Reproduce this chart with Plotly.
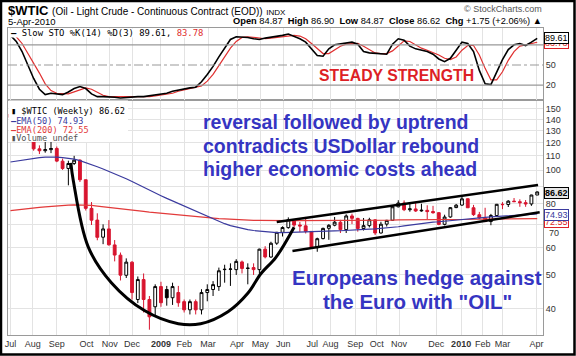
import math
import pandas as pd
import plotly.graph_objects as go

# ---------------- data ----------------
week_dates = list(pd.date_range("2008-07-07", periods=92, freq="7D").strftime("%Y-%m-%d"))

opens = [141.7, 145.1, 129.0, 123.3, 125.1, 115.2, 113.8, 114.6, 115.5, 106.2,
         101.2, 104.6, 106.9, 93.9, 77.7, 71.9, 64.2, 67.8, 61.0, 57.0,
         49.9, 54.4, 42.5, 48.5, 42.5, 40.5, 46.3, 45.4, 43.0, 44.5,
         41.9, 39.7, 41.9, 39.7, 44.5, 45.4, 46.3, 51.8, 51.9, 51.8,
         54.5, 52.2, 52.5, 51.8, 59.3, 56.3, 61.7, 66.3, 68.4, 72.0,
         69.6, 69.2, 66.7, 59.9, 63.6, 68.1, 69.5, 70.9, 67.5, 73.9,
         72.7, 68.0, 69.3, 72.0, 66.0, 70.0, 71.8, 78.5, 80.5, 77.0,
         77.4, 76.4, 76.7, 76.1, 75.5, 69.9, 73.4, 78.1, 79.4, 82.8,
         78.0, 74.5, 72.9, 71.2, 74.1, 79.8, 79.7, 81.5, 81.2, 80.7,
         80.0, 84.87]
highs = [147.3, 145.9, 132.0, 127.8, 126.0, 117.9, 122.2, 121.0, 117.0, 108.0,
         106.5, 110.0, 107.5, 94.0, 81.0, 75.2, 69.9, 71.9, 63.0, 58.0,
         55.8, 54.8, 49.5, 50.5, 43.5, 47.0, 47.8, 46.5, 47.5, 46.5,
         42.5, 42.5, 42.5, 45.5, 47.0, 48.0, 52.5, 53.5, 54.0, 55.5,
         55.0, 54.0, 54.0, 59.5, 60.5, 62.3, 66.5, 69.0, 73.2, 72.4,
         71.0, 73.4, 66.8, 64.0, 68.4, 70.0, 73.4, 72.0, 74.7, 75.0,
         73.0, 72.9, 73.0, 72.4, 71.1, 72.0, 78.9, 82.0, 81.9, 81.0,
         80.5, 80.1, 79.3, 79.0, 75.8, 74.5, 78.4, 80.0, 83.95, 83.0,
         79.5, 75.9, 78.0, 74.9, 80.0, 81.0, 82.0, 83.2, 82.5, 82.1,
         85.0, 86.90]
lows = [135.6, 128.2, 122.0, 120.4, 113.8, 111.3, 112.3, 112.0, 105.5, 100.2,
        90.5, 103.5, 92.5, 76.6, 69.6, 62.9, 61.3, 60.7, 54.7, 48.2,
        49.0, 42.5, 41.5, 39.0, 34.8, 38.0, 40.5, 40.8, 41.0, 40.5,
        39.0, 38.5, 38.5, 38.5, 42.0, 43.5, 45.0, 47.5, 46.5, 50.0,
        50.5, 47.0, 50.0, 50.5, 55.8, 56.0, 61.0, 64.5, 67.9, 68.6,
        66.5, 65.8, 59.5, 58.3, 63.3, 63.1, 69.0, 66.0, 66.0, 70.0,
        66.6, 67.1, 68.5, 65.1, 65.8, 68.9, 71.5, 78.2, 76.3, 76.0,
        75.9, 76.0, 72.4, 75.0, 69.5, 69.4, 73.0, 77.8, 79.0, 77.9,
        73.9, 72.4, 71.1, 69.5, 73.6, 77.3, 78.4, 81.0, 78.5, 78.5,
        79.0, 84.87]
closes = [145.08, 128.88, 123.26, 125.10, 115.20, 113.77, 114.59, 115.46, 106.23, 101.18,
          104.55, 106.89, 93.88, 77.70, 71.85, 64.15, 67.81, 61.04, 57.04, 49.93,
          54.43, 44.5, 48.5, 42.5, 37.9, 46.3, 41.6, 43.0, 46.3, 41.6,
          39.7, 41.9, 39.7, 44.5, 45.4, 46.9, 51.4, 51.9, 52.0, 54.7,
          52.2, 52.3, 51.8, 59.3, 56.34, 61.67, 66.31, 68.44, 72.04, 69.55,
          69.16, 66.73, 59.89, 63.56, 68.05, 69.45, 70.93, 67.51, 73.89, 72.74,
          68.02, 69.29, 72.04, 66.02, 69.95, 71.77, 78.53, 80.50, 77.00, 77.43,
          76.35, 76.72, 76.05, 75.47, 69.87, 73.36, 78.05, 79.36, 82.75, 78.00,
          74.54, 72.89, 71.19, 74.13, 79.81, 79.66, 81.50, 81.24, 80.68, 80.00,
          84.87, 86.62]

ema50 = [105.6, 106.3, 107.0, 107.7, 108.3, 108.7, 109.0, 109.1, 109.0, 108.7,
         108.3, 107.6, 106.6, 105.3, 103.8, 102.3, 100.8, 99.3, 97.7, 96.1,
         94.5, 92.8, 91.0, 89.3, 87.6, 86.0, 84.5, 83.0, 81.6, 80.2,
         78.8, 77.4, 76.1, 74.8, 73.5, 72.3, 71.2, 70.2, 69.3, 68.6,
         68.0, 67.5, 67.1, 66.8, 66.5, 66.3, 66.2, 66.2, 66.2, 66.3,
         66.4, 66.5, 66.6, 66.6, 66.7, 66.8, 66.9, 67.0, 67.2, 67.4,
         67.5, 67.6, 67.7, 67.8, 68.0, 68.2, 68.5, 68.8, 69.2, 69.6,
         70.0, 70.3, 70.6, 70.9, 71.1, 71.4, 71.7, 72.0, 72.3, 72.6,
         72.8, 73.0, 73.2, 73.4, 73.6, 73.8, 74.0, 74.2, 74.4, 74.6,
         74.8, 74.93]
ema200 = [76.5, 76.9, 77.2, 77.6, 77.9, 78.2, 78.5, 78.8, 79.0, 79.2,
          79.4, 79.5, 79.5, 79.4, 79.2, 78.9, 78.6, 78.3, 77.9, 77.6,
          77.2, 76.9, 76.5, 76.2, 75.8, 75.5, 75.2, 74.9, 74.6, 74.3,
          74.0, 73.8, 73.5, 73.3, 73.0, 72.8, 72.6, 72.5, 72.3, 72.2,
          72.0, 71.9, 71.8, 71.8, 71.7, 71.7, 71.6, 71.6, 71.6, 71.6,
          71.6, 71.6, 71.6, 71.6, 71.6, 71.6, 71.6, 71.7, 71.7, 71.7,
          71.7, 71.8, 71.8, 71.8, 71.9, 71.9, 71.9, 72.0, 72.0, 72.0,
          72.1, 72.1, 72.1, 72.2, 72.2, 72.2, 72.2, 72.3, 72.3, 72.3,
          72.3, 72.3, 72.4, 72.4, 72.4, 72.4, 72.5, 72.5, 72.5, 72.5,
          72.55, 72.55]

sto_k = [94, 85, 70, 50, 30, 14, 6, 8, 7, 6,
         10, 15, 18, 15, 7, 3, 3, 3, 2, 1,
         2, 3, 3, 3, 4, 5, 6, 8, 11, 13,
         15, 16, 17, 25, 36, 48, 62, 75, 88, 92,
         92, 91, 89, 88, 90, 91, 92, 94, 96, 93,
         89, 84, 74, 64, 63, 74, 80, 81, 82, 84,
         81, 70, 68, 67, 67, 66, 81, 89, 87, 78,
         74, 72, 70, 66, 59, 55, 60, 72, 84, 82,
         70, 42, 22, 21, 40, 58, 73, 80, 82, 79,
         84, 89.61]
sto_d = [96, 92, 82, 68, 52, 38, 22, 12, 8, 7,
         7, 10, 13, 16, 14, 9, 5, 3, 3, 2,
         2, 2, 3, 3, 3, 4, 5, 6, 8, 11,
         13, 15, 16, 19, 26, 36, 49, 62, 75, 85,
         91, 92, 91, 89, 89, 90, 91, 92, 94, 94,
         93, 89, 82, 74, 67, 67, 72, 78, 81, 82,
         82, 78, 73, 68, 67, 67, 71, 79, 86, 85,
         80, 75, 72, 69, 65, 60, 58, 62, 72, 79,
         79, 65, 45, 28, 28, 40, 57, 70, 78, 80,
         82, 83.78]

x_tick_dates = ["2008-07-07", "2008-08-03", "2008-09-01", "2008-10-07", "2008-11-04", "2008-12-01",
                "2009-01-05", "2009-02-02", "2009-03-03", "2009-04-07", "2009-05-05", "2009-06-02",
                "2009-07-07", "2009-07-29", "2009-08-28", "2009-09-23", "2009-10-20", "2009-12-04",
                "2010-01-03", "2010-01-29", "2010-02-22", "2010-04-04"]
x_tick_text = ["Jul", "Aug", "Sep", "Oct", "Nov", "Dec", "<b>2009</b>", "Feb", "Mar", "Apr", "May", "Jun",
               "Jul", "Aug", "Sep", "Oct", "Nov", "Dec", "<b>2010</b>", "Feb", "Mar", "Apr"]
price_ticks = [40, 50, 60, 70, 80, 90, 100, 110, 120, 130, 140, 150]
price_tick_text = ["40", "50", "60", "", "80", "", "100", "110", "120", "130", "140", "150"]
sto_ticks = [20, 50, 80]
sto_tick_text = ["20", "50", ""]

# drawn annotation lines (date, price)
arc_dates = ["2008-09-18", "2008-09-21", "2008-10-09", "2008-11-06", "2008-12-16", "2009-01-26",
             "2009-02-22", "2009-03-27", "2009-04-20", "2009-05-06", "2009-05-24", "2009-06-15"]
arc_prices = [105, 93.3, 60.2, 47.5, 39.5, 36.2, 36.2, 39.2, 44.3, 50.5, 56.2, 68.6]
upper_dates = ["2009-05-25", "2010-04-06"]
upper_prices = [71.0, 90.7]
lower_dates = ["2009-06-13", "2010-04-08"]
lower_prices = [58.6, 75.7]

# ---------------- geometry helpers ----------------
W, H = 576, 356
PL, PR, PT, PB = 8, 543, 28, 335
SPLIT = 100


def fx(x):
    return (x - PL) / (PR - PL)


def fy(y):
    return (PB - y) / (PB - PT)


BLUE_TXT = "#3535c2"
RED_TXT = "#dd1f26"
EMA50_C = "#3a3a9e"
EMA200_C = "#e23a3a"

fig = go.Figure()

n = len(closes)
black_idx = [i for i in range(n) if i > 0 and closes[i] >= closes[i - 1]]
red_idx = [i for i in range(n) if not (i > 0 and closes[i] >= closes[i - 1])]


def pick(lst, idx):
    return [lst[i] for i in idx]


for idx, col in ((black_idx, "black"), (red_idx, "#d8152f")):
    fig.add_trace(go.Candlestick(
        x=pick(week_dates, idx), open=pick(opens, idx), high=pick(highs, idx),
        low=pick(lows, idx), close=pick(closes, idx),
        increasing=dict(line=dict(color=col, width=1), fillcolor="white"),
        decreasing=dict(line=dict(color=col, width=1), fillcolor=col),
        whiskerwidth=0, showlegend=False, xaxis="x", yaxis="y"))

fig.add_trace(go.Scatter(x=week_dates, y=ema200, mode="lines", line=dict(color=EMA200_C, width=1.2),
                         showlegend=False, xaxis="x", yaxis="y"))
fig.add_trace(go.Scatter(x=week_dates, y=ema50, mode="lines", line=dict(color=EMA50_C, width=1.2),
                         showlegend=False, xaxis="x", yaxis="y"))

fig.add_trace(go.Scatter(x=arc_dates, y=arc_prices, mode="lines", line=dict(color="black", width=3, shape="spline"),
                         showlegend=False, xaxis="x", yaxis="y"))
fig.add_trace(go.Scatter(x=upper_dates, y=upper_prices, mode="lines", line=dict(color="black", width=2.6),
                         showlegend=False, xaxis="x", yaxis="y"))
fig.add_trace(go.Scatter(x=lower_dates, y=lower_prices, mode="lines", line=dict(color="black", width=2.6),
                         showlegend=False, xaxis="x", yaxis="y"))

fig.add_trace(go.Scatter(x=week_dates, y=sto_d, mode="lines", line=dict(color="#e03030", width=1.2),
                         showlegend=False, xaxis="x2", yaxis="y2"))
fig.add_trace(go.Scatter(x=week_dates, y=sto_k, mode="lines", line=dict(color="black", width=1.6),
                         showlegend=False, xaxis="x2", yaxis="y2"))

split_dom = (PB - SPLIT) / (PB - PT)
grid_c = "#e3e3e3"
axis_font = dict(family="Liberation Sans, Arial", size=9, color="#333")

shapes = [
    dict(type="line", xref="x2 domain", yref="y2", x0=0, x1=1, y0=80, y1=80, line=dict(color="#999", width=1.3)),
    dict(type="line", xref="x2 domain", yref="y2", x0=0, x1=1, y0=20, y1=20, line=dict(color="#999", width=1.3)),
    dict(type="line", xref="x2 domain", yref="y2", x0=0, x1=1, y0=50, y1=50,
         line=dict(color="#999", width=1, dash="dashdot")),
    dict(type="rect", xref="paper", yref="paper", x0=fx(8.6), x1=fx(198), y0=fy(37.5), y1=fy(28.6),
         fillcolor="white", line=dict(width=0), layer="above"),
    dict(type="rect", xref="paper", yref="paper", x0=fx(8.6), x1=fx(128), y0=fy(142), y1=fy(100.6),
         fillcolor="white", line=dict(width=0), layer="above"),
    dict(type="rect", xref="paper", yref="paper", x0=fx(1), x1=fx(574.5), y0=fy(354.5), y1=fy(1),
         line=dict(color="black", width=2.5), layer="above"),
]

ann = []


def text(x, y, s, size=10, color="black", xanchor="left", yanchor="middle", family="Liberation Sans, Arial", **kw):
    d = dict(xref="paper", yref="paper", x=fx(x), y=fy(y), text=s, showarrow=False,
             xanchor=xanchor, yanchor=yanchor, font=dict(family=family, size=size, color=color))
    d.update(kw)
    ann.append(d)


text(6, 11, "<b>$WTIC</b> <span style='font-size:10px'>(Oil - Light Crude - Continuous Contract (EOD))</span>"
            " <span style='font-size:8px'>INDX</span>", size=13)
text(6, 21.5, "5-Apr-2010", size=9.5)
text(544, 9, "© StockCharts.com", size=9, color="#555", xanchor="right")
text(544, 21.5, "<b>Open</b> 84.87  <b>High</b> 86.90  <b>Low</b> 84.87  <b>Close</b> 86.62  "
                "<b>Chg</b> +1.75 (+2.06%) ▲", size=9.3, xanchor="right")

mono = "DejaVu Sans Mono, monospace"
text(9, 32.5, "<b>—</b> Slow STO %K(14) %D(3) 89.61, <span style='color:#e03030'>83.78</span>", size=8.9,
     family=mono)
text(9, 111, "▮ $WTIC (Weekly) 86.62", size=8.6, family=mono)
text(9, 120.5, "<span style='color:%s'><b>—</b>EMA(50) 74.93</span>" % EMA50_C, size=8.6, family=mono)
text(9, 129.5, "<span style='color:%s'><b>—</b>EMA(200) 72.55</span>" % EMA200_C, size=8.6, family=mono)
text(9, 138, "<span style='color:#555'>▮Volume undef</span>", size=8.6, family=mono)

text(544, 43, "83.78", size=9, color=RED_TXT, bordercolor=RED_TXT, borderwidth=1, borderpad=0, bgcolor="white")
text(544, 38, "89.61", size=9, color="black", bordercolor="black", borderwidth=1, borderpad=0, bgcolor="white")
text(544, 192.5, "<b>86.62</b>", size=9, color="black", bordercolor="black", borderwidth=1, borderpad=0,
     bgcolor="#e6e6e6")
text(544, 222, "72.55", size=9, color=RED_TXT, bordercolor=RED_TXT, borderwidth=1, borderpad=0, bgcolor="white")
text(544, 214.5, "74.93", size=9, color=EMA50_C, bordercolor=EMA50_C, borderwidth=1, borderpad=0, bgcolor="white")
text(547, 232.5, "70", size=9, color="#333")

text(396.5, 75.5, "<b>STEADY STRENGTH</b>", size=15.8, color=RED_TXT, xanchor="center")
for yy, s in ((122, "reversal followed by uptrend"), (146, "contradicts USDollar rebound"),
              (169, "higher economic costs ahead")):
    text(201, yy, "<b>%s</b>" % s, size=19.5, color=BLUE_TXT)
text(417, 277, "<b>Europeans hedge against</b>", size=20.5, color=BLUE_TXT, xanchor="center")
text(417, 301, "<b>the Euro with \"OIL\"</b>", size=20.5, color=BLUE_TXT, xanchor="center")

x_range = ["2008-07-04", "2010-04-12"]
fig.update_layout(
    width=W, height=H, margin=dict(l=PL, r=W - PR, t=PT, b=H - PB, autoexpand=False),
    paper_bgcolor="white", plot_bgcolor="white", showlegend=False,
    xaxis=dict(domain=[0, 1], anchor="y", type="date", range=x_range, tickmode="array",
               tickvals=x_tick_dates, ticktext=x_tick_text, tickfont=axis_font, ticks="",
               showgrid=True, gridcolor=grid_c, gridwidth=1, showline=True, linecolor="#9a9a9a",
               mirror=True, rangeslider=dict(visible=False), zeroline=False, automargin=False),
    xaxis2=dict(domain=[0, 1], anchor="y2", type="date", range=x_range, matches="x", tickmode="array",
                tickvals=x_tick_dates, showticklabels=False, ticks="", showgrid=True, gridcolor=grid_c,
                showline=True, linecolor="#9a9a9a", mirror=True, zeroline=False,
                rangeslider=dict(visible=False), automargin=False),
    yaxis=dict(domain=[0, split_dom], anchor="x", type="log", side="right",
               range=[math.log10(33.6), math.log10(159.2)], tickmode="array", tickvals=price_ticks,
               ticktext=price_tick_text, tickfont=axis_font, ticks="",
               showgrid=True, gridcolor=grid_c, showline=True, linecolor="#9a9a9a", mirror=True,
               zeroline=False, automargin=False),
    yaxis2=dict(domain=[split_dom, 1], anchor="x2", side="right", range=[-2, 105], tickmode="array",
                tickvals=sto_ticks, ticktext=sto_tick_text, tickfont=axis_font, ticks="", showgrid=False,
                showline=True, linecolor="#9a9a9a", mirror=True, zeroline=False, automargin=False),
    shapes=shapes, annotations=ann,
)

fig.write_html("out.html", config={"displayModeBar": False},
               post_script="document.body.style.margin='0';document.body.style.overflow='hidden';")
